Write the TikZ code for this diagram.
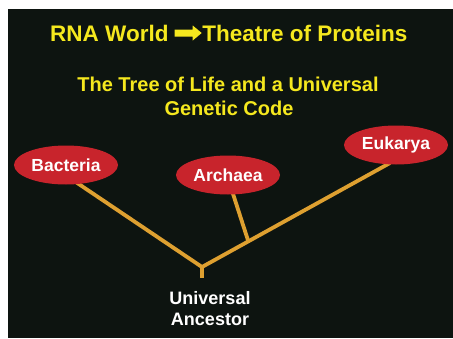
\documentclass[tikz,border=0pt]{standalone}
\usepackage{fontspec}
\setmainfont{Liberation Sans}
\usetikzlibrary{shapes.geometric,backgrounds,calc}
\definecolor{bg}{RGB}{13,20,16}
\definecolor{ttl}{RGB}{245,232,30}
\definecolor{branch}{RGB}{222,160,48}
\definecolor{cell}{RGB}{200,36,44}
\begin{document}
\begin{tikzpicture}[x=1pt,y=-1pt,
  titletext/.style={text=ttl,font=\bfseries\fontsize{22.5}{26}\selectfont,inner sep=0pt},
  subtext/.style={text=ttl,font=\bfseries\fontsize{20}{23}\selectfont,inner sep=0pt,anchor=base},
  cellnode/.style={ellipse,fill=cell,minimum width=104pt,minimum height=39pt,inner sep=0pt,text=white,font=\bfseries\fontsize{17.5}{20}\selectfont},
  ancestortext/.style={text=white,font=\bfseries\fontsize{18}{21}\selectfont,inner sep=0pt,anchor=base},
  branchline/.style={draw=branch,line width=3.8pt,line join=miter}]
\useasboundingbox (0,0) rectangle (453,338);
\begin{scope}[on background layer]
  \fill[white] (0,0) rectangle (453,338);
  \fill[bg] (8,9) rectangle (453,338);
\end{scope}
% title
\node[titletext,anchor=base west] (rna) at (50,41) {RNA World};
\coordinate (arrowtail) at ($(rna.base east)+(6,-8)$);
\coordinate (arrowtip) at ($(arrowtail)+(27,0)$);
\fill[ttl] ($(arrowtail)+(0,-3.5)$) -- ++(18,0) -- ++(0,-4) -- (arrowtip) -- ++(-9,7.5) -- ++(0,-4) -- ++(-18,0) -- cycle;
\node[titletext,anchor=base west] (theatre) at ($(arrowtip)+(0.5,8)$) {Theatre of Proteins};
% subtitle
\node[subtext] (sub1) at (228,91.7) {The Tree of Life and a Universal};
\node[subtext] (sub2) at (229,115) {Genetic Code};
% cells
\node[cellnode] (bacteria) at (66,165) {Bacteria};
\node[cellnode] (archaea) at (228,175) {Archaea};
\node[cellnode] (eukarya) at (396,145) {Eukarya};
% ancestor
\node[ancestortext] (anc1) at (210,304) {Universal};
\node[ancestortext] (anc2) at (210,325) {Ancestor};
\coordinate (root) at (202,267);
\coordinate (stubend) at (202,278);
\coordinate (junction) at ($(root)!0.25!(eukarya.-114)$);
\begin{scope}[on background layer]
  \draw[branchline,shorten <=-3pt,shorten >=-3pt] (bacteria.-56) -- (root) -- (eukarya.-114);
  \draw[branchline] (root) -- (stubend);
  \draw[branchline,shorten <=-3pt] (archaea.-75) -- (junction);
\end{scope}
\end{tikzpicture}
\end{document}
